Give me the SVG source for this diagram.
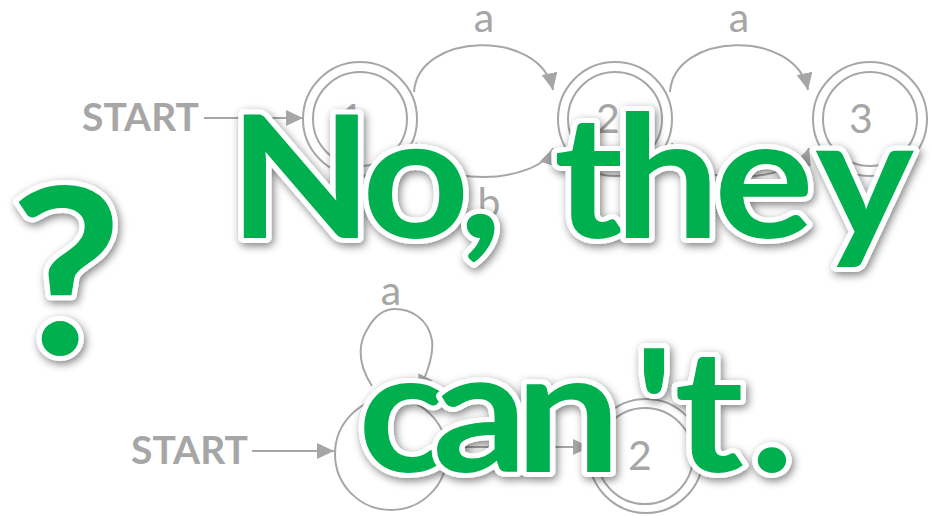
<svg xmlns="http://www.w3.org/2000/svg" width="932" height="516" viewBox="0 0 932 516">
<style>
.g{fill:#a6a6a6;font-family:Lato,"Liberation Sans",sans-serif}
.st{font-weight:bold;font-size:39px}
.lb{font-size:41px;text-anchor:middle}
.ring{fill:none;stroke:#a6a6a6;stroke-width:2}
.e{fill:none;stroke:#a6a6a6;stroke-width:2}
.big{fill:#00b050;stroke:#fff;stroke-width:10;stroke-linejoin:round;paint-order:stroke;font-family:Lato,"Liberation Sans",sans-serif;font-weight:bold;text-anchor:middle;filter:url(#sh)}
</style>
<defs>
<marker id="ah" markerUnits="userSpaceOnUse" markerWidth="18" markerHeight="16" viewBox="0 0 18 16" refX="17" refY="8" orient="auto">
<path d="M0 0 L17 8 L0 16 Z" fill="#a6a6a6"/>
</marker>
<filter id="sh" x="-10%" y="-15%" width="125%" height="140%">
<feGaussianBlur in="SourceAlpha" stdDeviation="4"/>
<feOffset dx="2" dy="3" result="b"/>
<feFlood flood-color="#000" flood-opacity="0.5"/>
<feComposite in2="b" operator="in"/>
<feMerge><feMergeNode/><feMergeNode in="SourceGraphic"/></feMerge>
</filter>
</defs>
<rect width="932" height="516" fill="#fff"/>

<g id="start-top"><text class="g st" x="82" y="131">START</text></g>
<g id="start-bottom"><text class="g st" x="131" y="464">START</text></g>

<g id="q1-top">
<circle class="ring" cx="360" cy="119" r="57"/>
<circle class="ring" cx="360" cy="119" r="47"/>
<text class="g lb" x="352" y="133">1</text>
</g>
<g id="q2-top">
<circle class="ring" cx="615" cy="119" r="57"/>
<circle class="ring" cx="615" cy="119" r="47"/>
<text class="g lb" x="608" y="133">2</text>
</g>
<g id="q3-top">
<circle class="ring" cx="870" cy="119" r="57"/>
<circle class="ring" cx="870" cy="119" r="47"/>
<text class="g lb" x="861" y="133">3</text>
</g>
<g id="q1-bottom">
<circle class="ring" cx="391" cy="454" r="56"/>
<text class="g lb" x="386" y="470">1</text>
</g>
<g id="q2-bottom">
<circle class="ring" cx="646" cy="456" r="57"/>
<circle class="ring" cx="645" cy="456" r="48"/>
<text class="g lb" x="640" y="470">2</text>
</g>

<g id="connectors">
<path class="e" d="M204 118 H303" marker-end="url(#ah)"/>
<path class="e" d="M414 92 C418 32 540 28 553 90" marker-end="url(#ah)"/>
<path class="e" d="M416 143 C425 190 540 185 553 148" marker-end="url(#ah)"/>
<path class="e" d="M670 92 C674 32 795 28 808 90" marker-end="url(#ah)"/>
<path class="e" d="M672 143 C681 190 796 185 809 148" marker-end="url(#ah)"/>
<path class="e" d="M252 451 H334" marker-end="url(#ah)"/>
<path class="e" d="M447 447 H590" marker-end="url(#ah)"/>
<path class="e" d="M372 386 C355 360 360 340 368 328 C376 314 386 309 395 309 C410 309 428 318 432 340 C434 355 428 372 418 392" marker-end="url(#ah)"/>
<text class="g lb" x="484" y="32">a</text>
<text class="g lb" x="739" y="32">a</text>
<text class="g lb" x="489" y="217">b</text>
<text class="g lb" x="391" y="305">a</text>
</g>

<g id="answer">
<text class="big" font-size="170" transform="scale(1.1 1)" x="273.5 378 437 468 535 606.5 694.5 786" y="238">No, they</text>
<text class="big" font-size="170" transform="scale(1.1 1)" x="366.4 436.4 516.4 594.5 644.5 701.8" y="472">can't.</text>
<text class="big" font-size="232" transform="scale(1.05 1)" x="63" y="354">?</text>
</g>
</svg>
